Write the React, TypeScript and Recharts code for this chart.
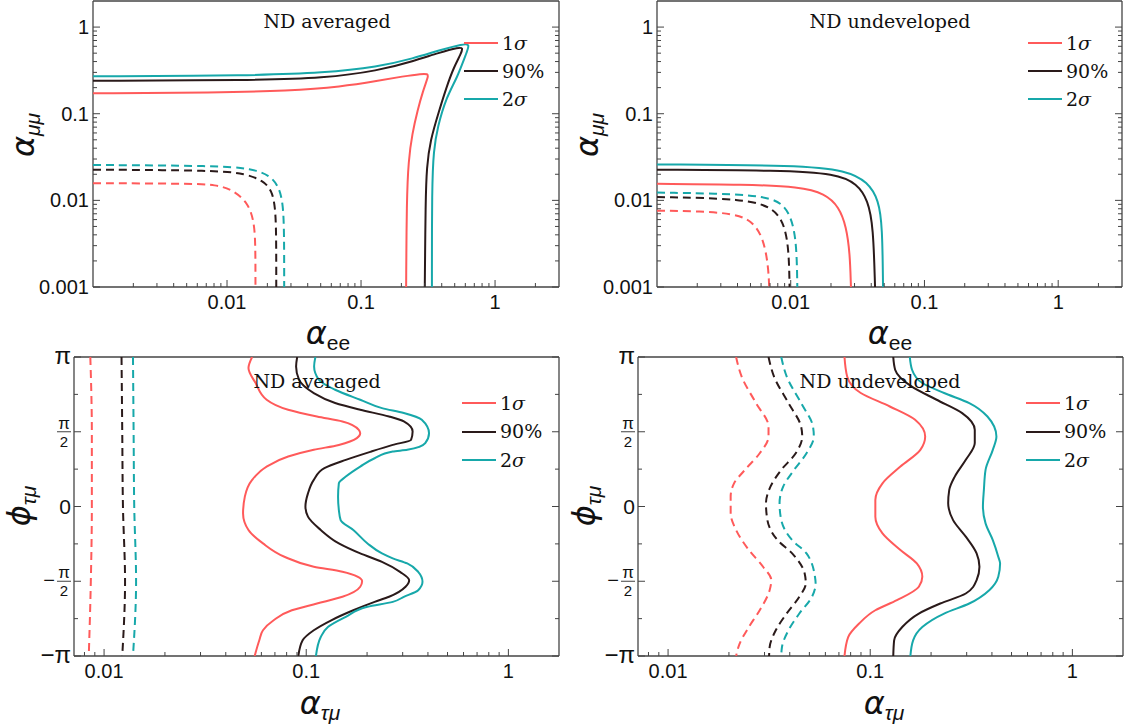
import React from "react";
import { ScatterChart, Scatter, XAxis, YAxis } from "recharts";

const RED = "#ff5a5a";
const DARK = "#2a1a1a";
const TEAL = "#17a8aa";
const FRAME = "#444";
const INK = "#111";
const SANS = "'Liberation Sans', Arial, sans-serif";
const SERIF = "'DejaVu Serif', serif";

// ---- axes ----
const eeDomain = [0.001, 3];
const mmDomain = [0.001, 2];
const eeTicks = [0.002, 0.003, 0.004, 0.005, 0.006, 0.007, 0.008, 0.009, 0.01, 0.02, 0.03, 0.04, 0.05, 0.06, 0.07, 0.08, 0.09, 0.1, 0.2, 0.3, 0.4, 0.5, 0.6, 0.7, 0.8, 0.9, 1, 2];
const eeMajor = [0.01, 0.1, 1];
const mmTicks = [0.001, 0.002, 0.003, 0.004, 0.005, 0.006, 0.007, 0.008, 0.009, 0.01, 0.02, 0.03, 0.04, 0.05, 0.06, 0.07, 0.08, 0.09, 0.1, 0.2, 0.3, 0.4, 0.5, 0.6, 0.7, 0.8, 0.9, 1];
const mmMajor = [0.001, 0.01, 0.1, 1];

const tmDomain = [0.0071, 1.78];
const tmTicks = [0.008, 0.009, 0.01, 0.02, 0.03, 0.04, 0.05, 0.06, 0.07, 0.08, 0.09, 0.1, 0.2, 0.3, 0.4, 0.5, 0.6, 0.7, 0.8, 0.9, 1];
const tmMajor = [0.01, 0.1, 1];
// phase in units of pi
const phDomain = [-1, 1];
const phTicks = [-1, -0.75, -0.5, -0.25, 0, 0.25, 0.5, 0.75, 1];
const phMajor = [-1, -0.5, 0, 0.5, 1];

// ---- ND averaged: alpha_ee vs alpha_mumu ----
const avgSolid1s = [[0.001, 0.172], [0.0083, 0.175], [0.0285, 0.184], [0.072, 0.205], [0.134, 0.24], [0.206, 0.27], [0.285, 0.29], [0.315, 0.288], [0.318, 0.27], [0.29, 0.184], [0.264, 0.109], [0.241, 0.059], [0.226, 0.029], [0.219, 0.01], [0.217, 0.001]];
const avgSolid90 = [[0.001, 0.24], [0.0153, 0.244], [0.053, 0.257], [0.134, 0.313], [0.248, 0.407], [0.383, 0.507], [0.54, 0.585], [0.575, 0.575], [0.56, 0.5], [0.491, 0.341], [0.433, 0.2], [0.383, 0.109], [0.328, 0.049], [0.309, 0.024], [0.303, 0.01], [0.299, 0.001]];
const avgSolid2s = [[0.001, 0.27], [0.0153, 0.276], [0.053, 0.296], [0.134, 0.347], [0.248, 0.437], [0.383, 0.54], [0.58, 0.64], [0.65, 0.635], [0.61, 0.5], [0.523, 0.262], [0.433, 0.155], [0.372, 0.07], [0.348, 0.0377], [0.338, 0.0143], [0.338, 0.001]];
const avgDash1s = [[0.001, 0.0158], [0.0052, 0.0156], [0.0083, 0.0152], [0.0112, 0.0131], [0.0144, 0.0092], [0.0158, 0.0059], [0.0163, 0.0035], [0.0163, 0.001]];
const avgDash90 = [[0.001, 0.0226], [0.0086, 0.0222], [0.0136, 0.0203], [0.0185, 0.017], [0.0216, 0.0131], [0.0229, 0.0084], [0.0233, 0.0042], [0.0233, 0.001]];
const avgDash2s = [[0.001, 0.0256], [0.0086, 0.0251], [0.0153, 0.0232], [0.0209, 0.0195], [0.0244, 0.0143], [0.0262, 0.0092], [0.0267, 0.0042], [0.0267, 0.001]];

// ---- ND undeveloped: alpha_ee vs alpha_mumu ----
const undSolid1s = [[0.001, 0.0155], [0.0046, 0.0153], [0.0117, 0.0143], [0.018, 0.012], [0.023, 0.0084], [0.026, 0.005], [0.0277, 0.00245], [0.0282, 0.001]];
const undSolid90 = [[0.001, 0.0226], [0.0086, 0.0222], [0.0217, 0.0203], [0.0314, 0.0156], [0.0378, 0.01], [0.0414, 0.005], [0.0427, 0.001]];
const undSolid2s = [[0.001, 0.026], [0.0117, 0.0254], [0.026, 0.0222], [0.0378, 0.0163], [0.0455, 0.01], [0.0484, 0.005], [0.049, 0.001]];
const undDash1s = [[0.001, 0.0076], [0.0034, 0.0074], [0.0052, 0.0059], [0.0063, 0.0035], [0.0068, 0.0017], [0.0069, 0.001]];
const undDash90 = [[0.001, 0.0109], [0.0046, 0.0105], [0.0076, 0.0081], [0.0091, 0.005], [0.0097, 0.00245], [0.0098, 0.001]];
const undDash2s = [[0.001, 0.0123], [0.0059, 0.0118], [0.0091, 0.0092], [0.0106, 0.005], [0.0111, 0.00245], [0.0112, 0.001]];

// ---- ND averaged: alpha_taumu vs phi_taumu / pi ----
const phAvgSolid1s = [[0.054, 1], [0.0518, 0.926], [0.0562, 0.826], [0.0637, 0.714], [0.0814, 0.647], [0.113, 0.602], [0.151, 0.569], [0.182, 0.513], [0.185, 0.49], [0.178, 0.457], [0.145, 0.412], [0.109, 0.379], [0.0814, 0.334], [0.0637, 0.267], [0.054, 0.178], [0.0497, 0.066], [0.0487, -0.046], [0.0518, -0.157], [0.0611, -0.247], [0.078, -0.336], [0.109, -0.403], [0.151, -0.437], [0.189, -0.5], [0.185, -0.537], [0.151, -0.604], [0.113, -0.649], [0.0849, -0.694], [0.069, -0.761], [0.0611, -0.828], [0.0586, -0.895], [0.0556, -1]];
const phAvgSolid90 = [[0.0902, 1], [0.0891, 0.937], [0.0921, 0.848], [0.109, 0.759], [0.139, 0.692], [0.185, 0.647], [0.257, 0.602], [0.304, 0.569], [0.336, 0.502], [0.33, 0.446], [0.268, 0.412], [0.21, 0.368], [0.157, 0.312], [0.123, 0.256], [0.109, 0.178], [0.102, 0.088], [0.0991, 0], [0.102, -0.068], [0.118, -0.157], [0.145, -0.247], [0.185, -0.314], [0.237, -0.37], [0.291, -0.437], [0.323, -0.493], [0.31, -0.537], [0.257, -0.604], [0.218, -0.638], [0.171, -0.694], [0.133, -0.761], [0.109, -0.828], [0.096, -0.895], [0.0914, -1]];
const phAvgSolid2s = [[0.111, 1], [0.1094, 0.937], [0.1155, 0.848], [0.139, 0.781], [0.185, 0.714], [0.237, 0.658], [0.304, 0.625], [0.373, 0.58], [0.405, 0.49], [0.388, 0.424], [0.316, 0.379], [0.268, 0.368], [0.218, 0.323], [0.185, 0.267], [0.157, 0.2], [0.145, 0.155], [0.1437, 0.066], [0.145, -0.023], [0.148, -0.091], [0.171, -0.157], [0.201, -0.247], [0.237, -0.314], [0.268, -0.347], [0.316, -0.381], [0.358, -0.437], [0.376, -0.504], [0.358, -0.56], [0.304, -0.604], [0.268, -0.638], [0.201, -0.671], [0.157, -0.738], [0.128, -0.806], [0.118, -0.873], [0.1117, -1]];
const phAvgDash1s = [[0.00855, 1], [0.0087, 0.5], [0.0087, 0], [0.0086, -0.5], [0.0084, -1]];
const phAvgDash90 = [[0.0122, 1], [0.0123, 0.5], [0.0124, 0], [0.0127, -0.5], [0.0123, -1]];
const phAvgDash2s = [[0.0139, 1], [0.014, 0.5], [0.0141, 0], [0.0144, -0.5], [0.0139, -1]];

// ---- ND undeveloped: alpha_taumu vs phi_taumu / pi ----
const phUndSolid1s = [[0.0746, 1], [0.0769, 0.87], [0.0898, 0.759], [0.125, 0.669], [0.1667, 0.58], [0.187, 0.468], [0.177, 0.379], [0.141, 0.267], [0.115, 0.155], [0.106, 0.044], [0.106, -0.068], [0.115, -0.18], [0.141, -0.291], [0.17, -0.381], [0.181, -0.47], [0.174, -0.537], [0.1356, -0.627], [0.106, -0.694], [0.0881, -0.783], [0.0778, -0.873], [0.0746, -1]];
const phUndSolid90 = [[0.13, 1], [0.1328, 0.915], [0.16, 0.803], [0.213, 0.714], [0.285, 0.625], [0.329, 0.513], [0.329, 0.424], [0.297, 0.312], [0.262, 0.2], [0.246, 0.111], [0.243, 0.021], [0.257, -0.091], [0.297, -0.202], [0.336, -0.314], [0.347, -0.403], [0.336, -0.493], [0.297, -0.582], [0.222, -0.649], [0.174, -0.716], [0.144, -0.806], [0.1313, -0.895], [0.13, -1]];
const phUndSolid2s = [[0.157, 1], [0.161, 0.915], [0.181, 0.826], [0.232, 0.759], [0.309, 0.692], [0.38, 0.602], [0.421, 0.468], [0.404, 0.379], [0.372, 0.245], [0.365, 0.111], [0.361, 0], [0.372, -0.113], [0.404, -0.225], [0.43, -0.336], [0.439, -0.381], [0.43, -0.47], [0.388, -0.56], [0.309, -0.649], [0.232, -0.716], [0.181, -0.806], [0.163, -0.895], [0.158, -1]];
const phUndDash1s = [[0.0217, 1], [0.0231, 0.87], [0.0272, 0.692], [0.0314, 0.535], [0.0314, 0.468], [0.0284, 0.356], [0.024, 0.245], [0.0212, 0.155], [0.0204, 0.066], [0.0204, -0.046], [0.0217, -0.157], [0.0251, -0.291], [0.0295, -0.403], [0.0324, -0.493], [0.0318, -0.56], [0.0284, -0.694], [0.0251, -0.806], [0.0226, -0.917], [0.0217, -1]];
const phUndDash90 = [[0.0314, 1], [0.0334, 0.87], [0.0394, 0.692], [0.0455, 0.535], [0.0461, 0.468], [0.0428, 0.356], [0.0363, 0.245], [0.0321, 0.133], [0.0305, 0.021], [0.031, -0.091], [0.0348, -0.225], [0.0411, -0.314], [0.0474, -0.448], [0.048, -0.515], [0.0446, -0.604], [0.0386, -0.716], [0.0341, -0.828], [0.0318, -0.94], [0.0316, -1]];
const phUndDash2s = [[0.0363, 1], [0.0386, 0.87], [0.0455, 0.692], [0.0521, 0.535], [0.0526, 0.468], [0.0484, 0.356], [0.042, 0.245], [0.0371, 0.133], [0.0356, 0.021], [0.0363, -0.091], [0.0411, -0.225], [0.0484, -0.314], [0.0533, -0.47], [0.0537, -0.515], [0.0515, -0.604], [0.0446, -0.716], [0.0394, -0.828], [0.0366, -0.94], [0.0363, -1]];

const legendItems = [
  { color: RED, num: "1", sym: "σ" },
  { color: DARK, num: "90%", sym: "" },
  { color: TEAL, num: "2", sym: "σ" },
];

type Curve = { pts: number[][]; color: string; dashed?: boolean };
type Side = "bottom" | "top" | "left" | "right";

const isMajor = (majors: number[], v: number) => majors.some((m) => Math.abs(m - v) < 1e-9);

// tick marks point inward; labels only on bottom/left majors
const makeTick =
  (side: Side, majors: number[], label?: (v: number, x: number, y: number) => React.ReactNode) =>
  (props: any) => {
    const { x, y, payload } = props;
    const v = payload.value;
    const major = isMajor(majors, v);
    const len = major ? 7 : 4;
    let l = { x1: x, x2: x, y1: y, y2: y - len };
    if (side === "top") l = { x1: x, x2: x, y1: y, y2: y + len };
    if (side === "left") l = { x1: x, x2: x + len, y1: y, y2: y };
    if (side === "right") l = { x1: x, x2: x - len, y1: y, y2: y };
    return (
      <g>
        <line {...l} stroke={FRAME} strokeWidth={1} />
        {major && label ? label(v, x, y) : null}
      </g>
    );
  };

const bottomLabel = (v: number, x: number, y: number) => (
  <text x={x} y={y + 22} textAnchor="middle" fontSize={20} fontFamily={SANS} fill={INK}>
    {String(v)}
  </text>
);

const logLeftLabel = (v: number, x: number, y: number) => (
  <text x={x - 4} y={y + 7} textAnchor="end" fontSize={20} fontFamily={SANS} fill={INK}>
    {String(v)}
  </text>
);

const phaseLabel = (v: number, x: number, y: number) => {
  const r = x - 3;
  if (v === 0)
    return (
      <text x={r} y={y + 7} textAnchor="end" fontSize={21} fontFamily={SANS} fill={INK}>
        0
      </text>
    );
  const neg = v < 0;
  if (Math.abs(v) === 1)
    return (
      <text x={r} y={y + 7} textAnchor="end" fontSize={24} fontFamily={SANS} fill={INK}>
        {neg ? "−π" : "π"}
      </text>
    );
  return (
    <g fontFamily={SANS} fill={INK}>
      {neg && (
        <text x={r - 16} y={y + 6} textAnchor="end" fontSize={20}>
          −
        </text>
      )}
      <text x={r - 7} y={y - 3} textAnchor="middle" fontSize={17}>
        π
      </text>
      <line x1={r - 14} x2={r} y1={y} y2={y} stroke={INK} strokeWidth={0.8} />
      <text x={r - 7} y={y + 15} textAnchor="middle" fontSize={15}>
        2
      </text>
    </g>
  );
};

type PanelProps = {
  left: number;
  top: number;
  width: number;
  height: number;
  margin: { top: number; right: number; bottom: number; left: number };
  leftW: number;
  bottomH: number;
  xDomain: number[];
  xTicks: number[];
  xMajor: number[];
  yDomain: number[];
  yTicks: number[];
  yMajor: number[];
  yLog: boolean;
  yLabel: (v: number, x: number, y: number) => React.ReactNode;
  joint: "basis" | "monotoneY";
  curves: Curve[];
};

function Panel(p: PanelProps) {
  const yScale = p.yLog ? "log" : "linear";
  return (
    <div style={{ position: "absolute", left: p.left, top: p.top }}>
      <ScatterChart width={p.width} height={p.height} margin={p.margin}>
        <XAxis
          dataKey="x"
          type="number"
          scale="log"
          domain={p.xDomain}
          allowDataOverflow
          ticks={p.xTicks}
          interval={0}
          height={p.bottomH}
          tickSize={0}
          tickMargin={0}
          tickLine={false}
          stroke={FRAME}
          strokeWidth={1.3}
          tick={makeTick("bottom", p.xMajor, bottomLabel)}
        />
        <XAxis
          xAxisId="top"
          orientation="top"
          type="number"
          scale="log"
          domain={p.xDomain}
          allowDataOverflow
          ticks={p.xTicks}
          interval={0}
          height={1}
          tickSize={0}
          tickMargin={0}
          tickLine={false}
          stroke={FRAME}
          strokeWidth={1.3}
          tick={makeTick("top", p.xMajor)}
        />
        <YAxis
          dataKey="y"
          type="number"
          scale={yScale}
          domain={p.yDomain}
          allowDataOverflow
          ticks={p.yTicks}
          interval={0}
          width={p.leftW}
          tickSize={0}
          tickMargin={0}
          tickLine={false}
          stroke={FRAME}
          strokeWidth={1.3}
          tick={makeTick("left", p.yMajor, p.yLabel)}
        />
        <YAxis
          yAxisId="right"
          orientation="right"
          type="number"
          scale={yScale}
          domain={p.yDomain}
          allowDataOverflow
          ticks={p.yTicks}
          interval={0}
          width={1}
          tickSize={0}
          tickMargin={0}
          tickLine={false}
          stroke={FRAME}
          strokeWidth={1.3}
          tick={makeTick("right", p.yMajor)}
        />
        {p.curves.map((c, i) => (
          <Scatter
            key={i}
            data={c.pts.map(([x, y]) => ({ x, y }))}
            fill={c.color}
            isAnimationActive={false}
            lineJointType={p.joint}
            line={{ stroke: c.color, strokeWidth: 2, strokeDasharray: c.dashed ? "8 5" : undefined }}
            shape={() => <g />}
          />
        ))}
      </ScatterChart>
    </div>
  );
}

function LegendBox({ left, top, row }: { left: number; top: number; row: number }) {
  return (
    <div style={{ position: "absolute", left, top, fontFamily: SERIF, fontSize: 19, color: INK }}>
      {legendItems.map((it) => (
        <div key={it.num} style={{ display: "flex", alignItems: "center", height: row }}>
          <svg width={34} height={4}>
            <line x1={0} x2={34} y1={2} y2={2} stroke={it.color} strokeWidth={2} />
          </svg>
          <span style={{ marginLeft: 4, lineHeight: "19px" }}>
            {it.num}
            {it.sym && <i>{it.sym}</i>}
          </span>
        </div>
      ))}
    </div>
  );
}

function Caption({ x, y, text }: { x: number; y: number; text: string }) {
  return (
    <div
      style={{
        position: "absolute",
        left: x,
        top: y,
        transform: "translateX(-50%)",
        fontFamily: SERIF,
        fontSize: 19,
        lineHeight: "19px",
        whiteSpace: "nowrap",
        color: INK,
      }}
    >
      {text}
    </div>
  );
}

function AxisTitle({ x, y, sym, sub, subItalic, rotate }: { x: number; y: number; sym: string; sub: string; subItalic: boolean; rotate?: boolean }) {
  return (
    <div
      style={{
        position: "absolute",
        left: x,
        top: y,
        transform: `translate(-50%, -50%)${rotate ? " rotate(-90deg)" : ""}`,
        fontFamily: SANS,
        fontSize: 32,
        lineHeight: "32px",
        whiteSpace: "nowrap",
        color: INK,
      }}
    >
      <i style={{ fontFamily: "'DejaVu Sans', " + SANS }}>{sym}</i>
      <span style={{ fontSize: 21, fontStyle: subItalic ? "italic" : "normal", verticalAlign: "-0.3em" }}>{sub}</span>
    </div>
  );
}

const solidDash = (s1: number[][], s90: number[][], s2: number[][], d1: number[][], d90: number[][], d2: number[][]): Curve[] => [
  { pts: d1, color: RED, dashed: true },
  { pts: d90, color: DARK, dashed: true },
  { pts: d2, color: TEAL, dashed: true },
  { pts: s1, color: RED },
  { pts: s90, color: DARK },
  { pts: s2, color: TEAL },
];

export default function App() {
  return (
    <div style={{ position: "absolute", left: 0, top: 0, width: 1130, height: 727, background: "#fff", overflow: "hidden" }}>
      <Panel
        left={0}
        top={0}
        width={565}
        height={340}
        margin={{ top: 0, right: 5, bottom: 0, left: 0 }}
        leftW={93}
        bottomH={53}
        xDomain={eeDomain}
        xTicks={eeTicks}
        xMajor={eeMajor}
        yDomain={mmDomain}
        yTicks={mmTicks}
        yMajor={mmMajor}
        yLog
        yLabel={logLeftLabel}
        joint="basis"
        curves={solidDash(avgSolid1s, avgSolid90, avgSolid2s, avgDash1s, avgDash90, avgDash2s)}
      />
      <Panel
        left={565}
        top={0}
        width={565}
        height={340}
        margin={{ top: 0, right: 7, bottom: 0, left: 0 }}
        leftW={92}
        bottomH={53}
        xDomain={eeDomain}
        xTicks={eeTicks}
        xMajor={eeMajor}
        yDomain={mmDomain}
        yTicks={mmTicks}
        yMajor={mmMajor}
        yLog
        yLabel={logLeftLabel}
        joint="basis"
        curves={solidDash(undSolid1s, undSolid90, undSolid2s, undDash1s, undDash90, undDash2s)}
      />
      <Panel
        left={0}
        top={340}
        width={565}
        height={387}
        margin={{ top: 16, right: 5, bottom: 0, left: 0 }}
        leftW={74}
        bottomH={71}
        xDomain={tmDomain}
        xTicks={tmTicks}
        xMajor={tmMajor}
        yDomain={phDomain}
        yTicks={phTicks}
        yMajor={phMajor}
        yLog={false}
        yLabel={phaseLabel}
        joint="monotoneY"
        curves={solidDash(phAvgSolid1s, phAvgSolid90, phAvgSolid2s, phAvgDash1s, phAvgDash90, phAvgDash2s)}
      />
      <Panel
        left={565}
        top={340}
        width={565}
        height={387}
        margin={{ top: 16, right: 6, bottom: 0, left: 0 }}
        leftW={73}
        bottomH={71}
        xDomain={tmDomain}
        xTicks={tmTicks}
        xMajor={tmMajor}
        yDomain={phDomain}
        yTicks={phTicks}
        yMajor={phMajor}
        yLog={false}
        yLabel={phaseLabel}
        joint="monotoneY"
        curves={solidDash(phUndSolid1s, phUndSolid90, phUndSolid2s, phUndDash1s, phUndDash90, phUndDash2s)}
      />

      <Caption x={327} y={12} text="ND averaged" />
      <Caption x={890} y={12} text="ND undeveloped" />
      <Caption x={317} y={372} text="ND averaged" />
      <Caption x={880} y={372} text="ND undeveloped" />

      <LegendBox left={464} top={29} row={28} />
      <LegendBox left={1028} top={29} row={28} />
      <LegendBox left={462} top={389} row={28.5} />
      <LegendBox left={1026} top={389} row={28.5} />

      <AxisTitle x={28} y={135} sym="α" sub="μμ" subItalic rotate />
      <AxisTitle x={328} y={338} sym="α" sub="ee" subItalic={false} />
      <AxisTitle x={592} y={135} sym="α" sub="μμ" subItalic rotate />
      <AxisTitle x={890} y={338} sym="α" sub="ee" subItalic={false} />
      <AxisTitle x={24} y={506} sym="ϕ" sub="τμ" subItalic rotate />
      <AxisTitle x={320} y={708} sym="α" sub="τμ" subItalic />
      <AxisTitle x={589} y={506} sym="ϕ" sub="τμ" subItalic rotate />
      <AxisTitle x={884} y={708} sym="α" sub="τμ" subItalic />
    </div>
  );
}
